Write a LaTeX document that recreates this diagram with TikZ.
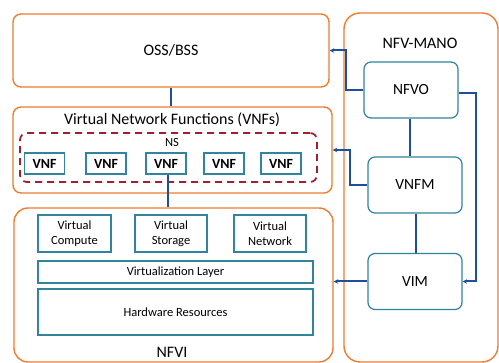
\documentclass[tikz,border=0pt]{standalone}
\usepackage{fontspec}
\setmainfont{Carlito}
\usepackage{tikz}
\usetikzlibrary{arrows.meta,positioning,calc}

\definecolor{mgmtorange}{HTML}{ED7D31}
\definecolor{linkblue}{HTML}{1F4E9E}
\definecolor{boxteal}{HTML}{31849B}
\definecolor{nsred}{HTML}{A02030}

\begin{document}
\begin{tikzpicture}[
    x=1pt, y=-1pt,
    block/.style={rectangle, rounded corners=8pt, draw=mgmtorange, line width=1.4pt,
                  fill=white, inner sep=0pt},
    func/.style={rectangle, draw=boxteal, line width=1.2pt, fill=white,
                 align=center, font=\fontsize{12.5}{15.5}\selectfont, inner sep=0pt},
    mgr/.style={rectangle, rounded corners=7pt, draw=boxteal, line width=1.2pt,
                fill=white, minimum width=94pt, minimum height=56pt,
                font=\fontsize{15.5}{18}\selectfont},
    vnf/.style={func, minimum width=40pt, minimum height=21pt,
                font=\fontsize{14}{16}\selectfont\bfseries},
    title/.style={font=\fontsize{16}{19}\selectfont, inner sep=0pt},
    link/.style={draw=linkblue, line width=2pt},
    arrow/.style={link, -{Stealth[length=4.5pt, width=4.5pt]}}
]
\useasboundingbox (0,0) rectangle (499,363);

% ================= LEFT STACK =================
% OSS/BSS
\node[block, minimum width=316pt, minimum height=73pt, font=\fontsize{16}{19}\selectfont] (OSS) at (171, 50.5) {OSS/BSS};

% VNF layer
\node[block, minimum width=319pt, minimum height=86pt] (VNFs) at (172.5, 150) {};
\node[title] (VNFsTitle) at (172, 120) {Virtual Network Functions (VNFs)};
\node[rectangle, rounded corners=7pt, draw=nsred, line width=1.8pt, dash pattern=on 7pt off 5pt,
      minimum width=297pt, minimum height=49pt] (NS) at (168.5, 157.5) {};
\node[title, font=\fontsize{12.5}{15}\selectfont] (NSTitle) at (172, 142) {NS};
\node[vnf] (VNF1) at (44.5, 163.5) {VNF};
\node[vnf] (VNF2) at (106, 163.5) {VNF};
\node[vnf] (VNF3) at (166, 163.5) {VNF};
\node[vnf] (VNF4) at (224, 163.5) {VNF};
\node[vnf] (VNF5) at (281, 163.5) {VNF};

% Infrastructure
\node[block, rounded corners=14pt, minimum width=319pt, minimum height=154pt] (NFVI) at (173.5, 285) {};
\node[title] (NFVITitle) at (172, 352) {NFVI};
\node[func, minimum width=73pt, minimum height=37pt] (Compute) at (74.5, 233.5) {Virtual\\Compute};
\node[func, minimum width=72pt, minimum height=37pt] (Storage) at (171, 233.5) {Virtual\\Storage};
\node[func, minimum width=72pt, minimum height=37pt] (Network) at (270, 233.5) {Virtual\\Network};
\node[func, minimum width=275pt, minimum height=22pt] (VirtLayer) at (175.5, 272) {Virtualization Layer};
\node[func, minimum width=275pt, minimum height=46pt] (Hardware) at (175.5, 312) {Hardware Resources};

% ================= NFV-MANO =================
\node[block, rounded corners=16pt, minimum width=154pt, minimum height=349pt] (MANO) at (421, 187.5) {};
\node[title] (MANOTitle) at (420, 43) {NFV-MANO};
\node[mgr] (NFVO) at (411, 90) {NFVO};
\node[mgr] (VNFM) at (415, 185) {VNFM};
\node[mgr] (VIM) at (415, 281.5) {VIM};

% ================= DRAWING LINKS =================
% Vertical stack
\draw[link] (OSS.south) -- (OSS.south |- VNFs.north);
\draw[link] ([xshift=2pt]VNF3.south) -- ([xshift=2pt]VNF3.south |- NFVI.north);

% Inside MANO
\draw[link] ([xshift=-1pt]NFVO.south) -- ([xshift=-1pt]NFVO.south |- VNFM.north);
\draw[link] ([xshift=1pt]VNFM.south) -- ([xshift=1pt]VNFM.south |- VIM.north);
\draw[arrow] ([yshift=-3pt]NFVO.east) -- ++(17,0) |- (VIM.east);

% Reference points to the left stack
\draw[arrow] (NFVO.west) -- ++(-17,0) |- (OSS.east);
\draw[arrow] (VNFM.west) -- ++(-17,0) |- (VNFs.east);
\draw[arrow] (VIM.west) -- (VIM.west -| NFVI.east);

\end{tikzpicture}
\end{document}
